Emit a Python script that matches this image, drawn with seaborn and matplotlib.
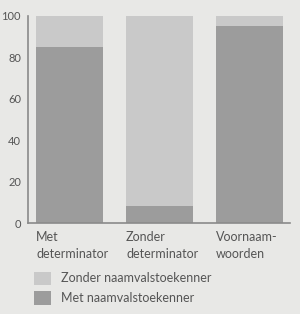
import matplotlib
matplotlib.use("Agg")
import matplotlib.pyplot as plt
import seaborn as sns
import pandas as pd
from matplotlib.patches import Patch

categories = ["Met\ndeterminator", "Zonder\ndeterminator", "Voornaam-\nwoorden"]
met_naamval = [85, 8, 95]
totaal = [100, 100, 100]
legend_labels = ["Zonder naamvalstoekenner", "Met naamvalstoekenner"]
yticks = [0, 20, 40, 60, 80, 100]

bg = "#e8e8e6"
light = "#c9c9c9"
dark = "#9c9c9c"
axis_col = "#8a8a8a"
text_col = "#555555"

sns.set_theme(style="white")
plt.rcParams["font.family"] = ["Lato", "DejaVu Sans"]

df = pd.DataFrame({"cat": categories, "totaal": totaal, "met": met_naamval})

fig = plt.figure(figsize=(3.0, 3.14), dpi=100, facecolor=bg)
ax = fig.add_axes([28/300, (314-223)/314, (290-28)/300, (223-16)/314])
ax.set_facecolor(bg)

w = 0.744
sns.barplot(data=df, x="cat", y="totaal", color=light, width=w, ax=ax,
            saturation=1, edgecolor="none")
sns.barplot(data=df, x="cat", y="met", color=dark, width=w, ax=ax,
            saturation=1, edgecolor="none")

ax.set_xlim(-0.461, 2.45)
ax.set_ylim(0, 100)
ax.set_xlabel("")
ax.set_ylabel("")
for s in ["top", "right"]:
    ax.spines[s].set_visible(False)
for s in ["left", "bottom"]:
    ax.spines[s].set_color(axis_col)
    ax.spines[s].set_linewidth(1.2)

ax.set_yticks(yticks)
ax.set_yticklabels([str(v) for v in yticks], fontsize=8, color=text_col)
ax.tick_params(axis="y", length=0, pad=5)

ax.set_xticks([i - w/2 for i in range(len(categories))])
ax.set_xticklabels(categories, fontsize=9, color=text_col, ha="left",
                   linespacing=1.45)
ax.tick_params(axis="x", length=0, pad=6)

handles = [Patch(facecolor=light, edgecolor="none"),
           Patch(facecolor=dark, edgecolor="none")]
fig.legend(handles, legend_labels, loc="upper left",
           bbox_to_anchor=(31/300, 1 - 269/314), frameon=False,
           fontsize=9, handlelength=1.36, handleheight=1.28,
           handletextpad=0.85, labelspacing=0.5, labelcolor=text_col,
           borderaxespad=0, borderpad=0.2)

fig.savefig("out.png", dpi=100, facecolor=bg)
